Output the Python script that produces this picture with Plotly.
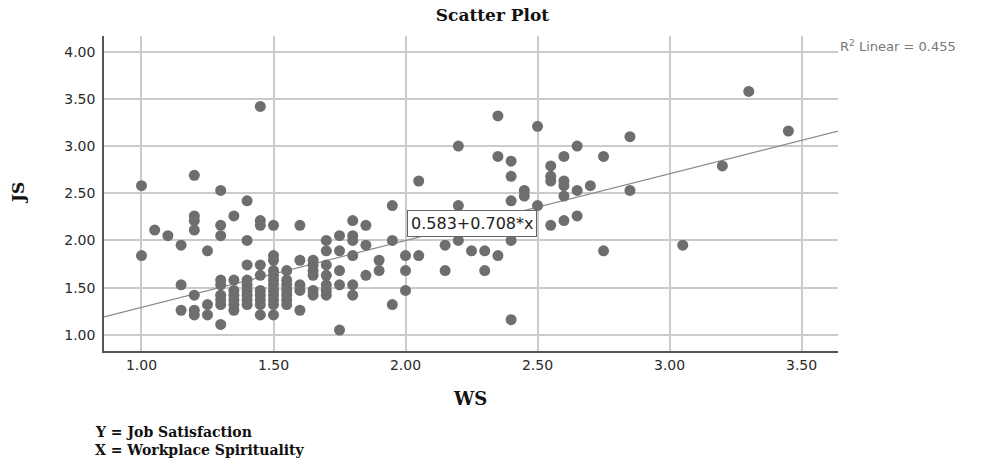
import plotly.graph_objects as go

# WS (x) -> list of JS (y) values
ws_groups = {
    1.00: [2.58, 1.84],
    1.05: [2.11],
    1.10: [2.05],
    1.15: [1.95, 1.53, 1.26],
    1.20: [2.69, 2.26, 2.21, 2.11, 1.42, 1.26, 1.21],
    1.25: [1.89, 1.32, 1.21],
    1.30: [2.53, 2.16, 2.05, 1.58, 1.53, 1.42, 1.37, 1.32, 1.11],
    1.35: [2.26, 1.58, 1.47, 1.42, 1.37, 1.32, 1.26],
    1.40: [2.42, 2.00, 1.74, 1.58, 1.53, 1.47, 1.42, 1.37, 1.32],
    1.45: [3.42, 2.21, 2.16, 1.74, 1.63, 1.47, 1.42, 1.37, 1.32, 1.21],
    1.50: [2.16, 1.84, 1.79, 1.68, 1.63, 1.58, 1.53, 1.47, 1.42, 1.37, 1.32, 1.21],
    1.55: [1.68, 1.58, 1.53, 1.47, 1.42, 1.37, 1.32],
    1.60: [2.16, 1.79, 1.53, 1.47, 1.26],
    1.65: [1.79, 1.74, 1.68, 1.63, 1.47, 1.42],
    1.70: [2.00, 1.89, 1.74, 1.63, 1.53, 1.47, 1.42],
    1.75: [2.05, 1.89, 1.68, 1.53, 1.05],
    1.80: [2.21, 2.05, 2.00, 1.84, 1.53, 1.42],
    1.85: [2.16, 1.95, 1.63],
    1.90: [1.79, 1.68],
    1.95: [2.37, 2.00, 1.32],
    2.00: [1.84, 1.68, 1.47],
    2.05: [2.63, 1.84],
    2.15: [1.95, 1.68],
    2.20: [3.00, 2.37, 2.00],
    2.25: [1.89],
    2.30: [1.89, 1.68],
    2.35: [3.32, 2.89, 1.84],
    2.40: [2.84, 2.68, 2.42, 2.00, 1.16],
    2.45: [2.53, 2.47],
    2.50: [3.21, 2.37],
    2.55: [2.79, 2.68, 2.63, 2.16],
    2.60: [2.89, 2.63, 2.58, 2.47, 2.21],
    2.65: [3.00, 2.53, 2.26],
    2.70: [2.58],
    2.75: [2.89, 1.89],
    2.85: [3.10, 2.53],
    3.05: [1.95],
    3.20: [2.79],
    3.30: [3.58],
    3.45: [3.16],
}

ws = [x for x, ys in ws_groups.items() for _ in ys]
js = [y for ys in ws_groups.values() for y in ys]

intercept = 0.583
slope = 0.708
r2 = 0.455

x_range = [0.858, 3.638]
y_range = [0.828, 4.167]
x_ticks = [1.0, 1.5, 2.0, 2.5, 3.0, 3.5]
x_tick_labels = ["1.00", "1.50", "2.00", "2.50", "3.00", "3.50"]
y_ticks = [1.0, 1.5, 2.0, 2.5, 3.0, 3.5, 4.0]
y_tick_labels = ["1.00", "1.50", "2.00", "2.50", "3.00", "3.50", "4.00"]

fit_x = x_range
fit_y = [intercept + slope * v for v in fit_x]

W, H = 985, 461
ML, MR, MT, MB = 104, 147, 36, 110
PW, PH = W - ML - MR, H - MT - MB


def px(xp):
    return (xp - ML) / PW


def py(yp):
    return (H - MB - yp) / PH


fig = go.Figure()
fig.add_trace(go.Scatter(
    x=fit_x, y=fit_y, mode="lines",
    line=dict(color="#8a8a8a", width=1.2),
    hoverinfo="skip", showlegend=False,
))
fig.add_trace(go.Scatter(
    x=ws, y=js, mode="markers",
    marker=dict(color="#6e6e6e", size=11, line=dict(width=0)),
    showlegend=False,
))

serif = "DejaVu Serif, serif"
sans = "DejaVu Sans, sans-serif"

fig.update_layout(
    width=W, height=H,
    margin=dict(l=ML, r=MR, t=MT, b=MB),
    paper_bgcolor="white", plot_bgcolor="white",
    title=dict(text="<b>Scatter Plot</b>", x=0.5, xanchor="center",
               y=1 - 15 / H, yanchor="middle",
               font=dict(family=serif, size=17, color="#111")),
    xaxis=dict(range=x_range, tickvals=x_ticks, ticktext=x_tick_labels,
               showgrid=True, gridcolor="#cbcbcb", gridwidth=1.5,
               showline=True, linecolor="#555", linewidth=1.5,
               ticks="", zeroline=False, automargin=False,
               tickfont=dict(family=sans, size=14, color="#2a2a2a")),
    yaxis=dict(range=y_range, tickvals=y_ticks, ticktext=y_tick_labels,
               showgrid=True, gridcolor="#cbcbcb", gridwidth=1.5,
               showline=True, linecolor="#555", linewidth=1.5,
               ticks="", zeroline=False, automargin=False,
               ticklabelstandoff=4,
               tickfont=dict(family=sans, size=14, color="#2a2a2a")),
)

# axis titles
fig.add_annotation(xref="paper", yref="paper", x=px(470), y=py(398),
                   xanchor="center", yanchor="middle", showarrow=False,
                   text="<b>WS</b>", font=dict(family=serif, size=18, color="#111"))
fig.add_annotation(xref="paper", yref="paper", x=px(18), y=py(193),
                   xanchor="center", yanchor="middle", showarrow=False, textangle=-90,
                   text="<b>JS</b>", font=dict(family=serif, size=17, color="#111"))

fig.add_annotation(
    xref="paper", yref="paper", x=1.0, y=py(46), xanchor="left", yanchor="middle",
    text=f"R<sup>2</sup> Linear = {r2:.3f}", showarrow=False,
    font=dict(family=sans, size=13, color="#777"),
)
fig.add_annotation(
    x=2.25, y=intercept + slope * 2.25, xref="x", yref="y",
    text=f"{intercept:.3f}+{slope:.3f}*x", showarrow=False,
    font=dict(family=sans, size=16, color="#222"),
    bgcolor="white", bordercolor="#666", borderwidth=1, borderpad=3,
)
fig.add_annotation(
    xref="paper", yref="paper", x=px(93), y=py(432), xanchor="left", yanchor="middle",
    text="<b>Y = Job Satisfaction</b>", showarrow=False, align="left",
    font=dict(family=serif, size=14, color="#111"),
)
fig.add_annotation(
    xref="paper", yref="paper", x=px(93), y=py(450), xanchor="left", yanchor="middle",
    text="<b>X = Workplace Spirituality</b>", showarrow=False, align="left",
    font=dict(family=serif, size=14, color="#111"),
)

fig.write_html("out.html", config={"displayModeBar": False},
               post_script="document.body.style.margin='0';")
